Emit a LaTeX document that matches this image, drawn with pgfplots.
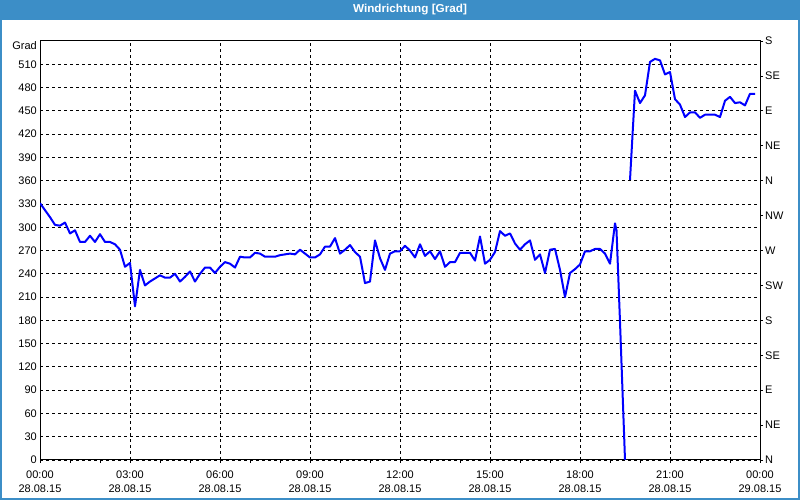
\documentclass[border=0pt]{standalone}
\usepackage{pgfplots}
\pgfplotsset{compat=1.18}
\usepackage{fontspec}
\setmainfont{Liberation Sans}
\definecolor{barblue}{RGB}{60,142,199}
\begin{document}
\begin{tikzpicture}[x=1pt,y=1pt]
\useasboundingbox (0,0) rectangle (800,500);
\fill[white] (0,0) rectangle (800,500);
\fill[barblue] (0,479.5) rectangle (800,500);
\fill[barblue] (0,0) rectangle (2,480);
\fill[barblue] (798,0) rectangle (800,480);
\fill[barblue] (0,0) rectangle (800,2);
\node[text=white, font=\bfseries\fontsize{11.5}{13}\selectfont] at (410,490) {\scalebox{1.02}[1]{Windrichtung [Grad]}};
\node[anchor=east, inner sep=0pt, font=\fontsize{11}{13}\selectfont] at (37,454) {Grad};
\begin{axis}[
  at={(40pt,40pt)}, anchor=south west, scale only axis,
  width=720pt, height=419pt,
  xmin=0, xmax=1440, ymin=0, ymax=540,
  axis line style={black, line width=1pt},
  tick align=outside,
  xtick={0,180,...,1440},
  xticklabels={{00:00\\28.08.15},{03:00\\28.08.15},{06:00\\28.08.15},{09:00\\28.08.15},{12:00\\28.08.15},{15:00\\28.08.15},{18:00\\28.08.15},{21:00\\28.08.15},{00:00\\29.08.15}},
  minor x tick num=2,
  xtick pos=bottom,
  ytick={0,30,...,510},
  yticklabels={0,30,60,90,120,150,180,210,240,270,300,330,360,390,420,450,480,510},
  ytick style={draw=none},
  ytick pos=left,
  major tick length=3pt, minor tick length=3pt,
  tick style={black, line width=0.8pt},
  xmajorgrids, ymajorgrids,
  major grid style={black, line width=0.8pt, dash pattern=on 3pt off 3pt},
  every tick label/.append style={font=\fontsize{11}{14}\selectfont},
  xticklabel style={align=center, yshift=-4pt},
  yticklabel style={inner sep=0pt},
]
\addplot[blue, line width=2pt, line join=round] coordinates {
(0,331)(10,322)(20,313)(30,303)(40,302)(50,306)(60,292)(70,296)(80,281)(90,281)
(100,289)(110,281)(120,291)(130,281)(140,281)(150,278)(160,271)(170,249)(180,254)(190,198)
(200,245)(210,225)(220,230)(230,234)(240,238)(250,235)(260,235)(270,240)(280,230)(290,236)
(300,243)(310,230)(320,240)(330,248)(340,248)(350,241)(360,249)(370,255)(380,253)(390,248)
(400,262)(410,261)(420,261)(430,267)(440,266)(450,262)(460,262)(470,262)(480,264)(490,265)
(500,266)(510,265)(520,271)(530,266)(540,261)(550,261)(560,265)(570,275)(580,275)(590,286)
(600,266)(610,271)(620,277)(630,268)(640,262)(650,228)(660,230)(670,283)(680,260)(690,245)
(700,266)(710,269)(720,269)(730,276)(740,270)(750,261)(760,278)(770,263)(780,269)(790,259)
(800,269)(810,249)(820,255)(830,255)(840,267)(850,267)(860,267)(870,257)(880,288)(890,253)
(900,258)(910,268)(920,295)(930,289)(940,292)(950,279)(960,271)(970,278)(980,283)(990,258)
(1000,265)(1010,241)(1020,271)(1030,272)(1040,245)(1050,210)(1060,241)(1070,246)(1080,252)(1090,269)
(1100,269)(1110,272)(1120,272)(1130,266)(1140,253)(1150,305)(1153,296)(1160,178)(1170,0)
};
\addplot[blue, line width=2pt, line join=round] coordinates {
(1180,361)(1190,476)(1200,460)(1210,470)(1220,513)(1230,517)(1240,515)(1250,497)(1260,500)
(1270,465)(1280,458)(1290,442)(1300,448)(1310,448)(1320,441)(1330,445)(1340,445)(1350,445)
(1360,442)(1370,463)(1380,468)(1390,460)(1400,461)(1410,457)(1420,472)(1430,472)
};
\end{axis}
\begin{axis}[
  at={(40pt,40pt)}, anchor=south west, scale only axis,
  width=720pt, height=419pt,
  xmin=0, xmax=1440, ymin=0, ymax=540,
  axis x line=none, axis y line*=right,
  axis line style={black, line width=1pt},
  tick align=outside,
  ytick={0,45,...,540},
  yticklabels={N,NE,E,SE,S,SW,W,NW,N,NE,E,SE,S},
  major tick length=3pt,
  tick style={black, line width=0.8pt},
  yticklabel style={font=\fontsize{11}{13}\selectfont, inner sep=0pt, xshift=2pt},
]
\end{axis}
\end{tikzpicture}
\end{document}
